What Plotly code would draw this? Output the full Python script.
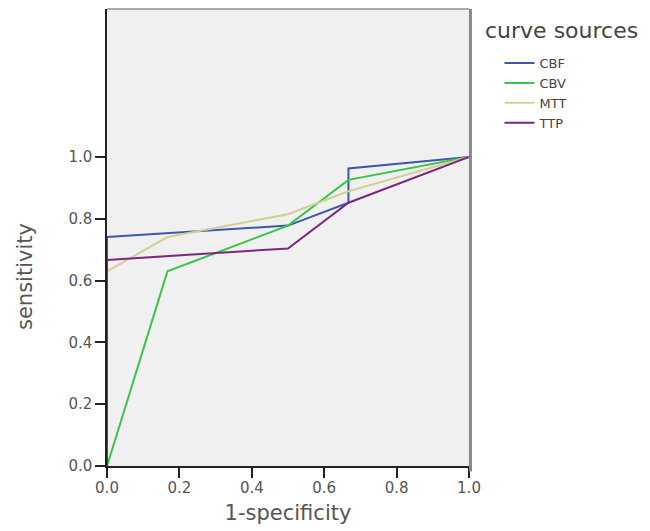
import plotly.graph_objects as go

series_names = ["CBF", "CBV", "MTT", "TTP"]
cbf_x = [0.0, 0.0, 0.5, 0.667, 0.667, 1.0]
cbf_y = [0.0, 0.741, 0.778, 0.852, 0.963, 1.0]
cbv_x = [0.0, 0.167, 0.5, 0.667, 1.0]
cbv_y = [0.0, 0.630, 0.778, 0.926, 1.0]
mtt_x = [0.0, 0.0, 0.167, 0.5, 0.667, 1.0]
mtt_y = [0.0, 0.630, 0.741, 0.815, 0.889, 1.0]
ttp_x = [0.0, 0.0, 0.5, 0.667, 1.0]
ttp_y = [0.0, 0.667, 0.704, 0.852, 1.0]
colors = ["#3E58AC", "#3BC44A", "#D3CE97", "#7C287D"]
tick_vals = [0.0, 0.2, 0.4, 0.6, 0.8, 1.0]
FONT = "DejaVu Sans, Arial, sans-serif"

fig = go.Figure()
for name, xs, ys, c in zip(series_names, [cbf_x, cbv_x, mtt_x, ttp_x],
                           [cbf_y, cbv_y, mtt_y, ttp_y], colors):
    fig.add_trace(go.Scatter(x=xs, y=ys, mode="lines", name=name,
                             line=dict(color=c, width=2), cliponaxis=False))

fig.update_layout(
    width=642, height=523,
    paper_bgcolor="white", plot_bgcolor="#F0F0F0",
    margin=dict(l=99, r=181, t=1, b=65),
    font=dict(family=FONT, color="#555555"),
    showlegend=True,
    legend=dict(
        x=1.0842, y=0.9146, xanchor="left", yanchor="top",
        xref="paper", yref="paper",
        font=dict(size=13, color="#444444", family=FONT),
        bgcolor="rgba(0,0,0,0)", tracegroupgap=0,
        itemwidth=30,
    ),
    xaxis=dict(
        range=[0, 1], tickvals=tick_vals, tickformat=".1f",
        showgrid=False, zeroline=False, layer="below traces",
        showline=True, linecolor="#222222", linewidth=1.5,
        ticks="outside", ticklen=10, tickcolor="#222222", tickwidth=1.5,
        ticklabelstandoff=-3,
        tickfont=dict(size=15, color="#555555", family=FONT),
        title=dict(text="1-specificity", font=dict(size=21, color="#555555", family=FONT), standoff=10),
    ),
    yaxis=dict(
        range=[0, 1.479], tickvals=tick_vals, tickformat=".1f",
        showgrid=False, zeroline=False, layer="below traces",
        showline=True, linecolor="#222222", linewidth=1.5,
        ticks="outside", ticklen=10, tickcolor="#222222", tickwidth=1.5,
        tickfont=dict(size=15, color="#555555", family=FONT),
    ),
)
fig.add_annotation(text="sensitivity", xref="paper", yref="paper",
                   x=-0.2265, y=0.4136, xanchor="center", yanchor="middle",
                   textangle=-90, showarrow=False,
                   font=dict(size=21, color="#555555", family=FONT))
fig.add_annotation(text="curve sources", xref="paper", yref="paper",
                   x=1.0387, y=0.954, xanchor="left", yanchor="middle",
                   showarrow=False, font=dict(size=22, color="#444444", family=FONT))
fig.add_shape(type="line", xref="paper", yref="paper", x0=1.004, x1=1.004, y0=-0.012, y1=1,
              line=dict(color="#888888", width=3))
fig.add_shape(type="line", xref="paper", yref="paper", x0=0, x1=1, y0=1, y1=1,
              line=dict(color="#AAAAAA", width=2))
fig.write_html("out.html")
